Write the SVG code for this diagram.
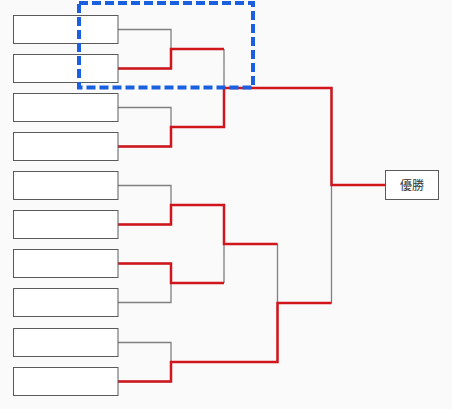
<svg xmlns="http://www.w3.org/2000/svg" width="452" height="409" viewBox="0 0 452 409">
<style>
.box{fill:#fff;stroke:#5a5a5a;stroke-width:1}
.g{fill:none;stroke:#808080;stroke-width:1.3}
.r{fill:none;stroke:#d0161c;stroke-width:2.5;stroke-linejoin:miter}
.t{font-family:"Noto Sans CJK JP","Noto Sans CJK SC",sans-serif;font-size:12px;fill:#333;text-anchor:middle}
.hl{fill:none;stroke:#1a5fe0;stroke-width:4;stroke-dasharray:9 4}
</style>
<rect width="452" height="409" fill="#fafafa"/>
<g id="connectors">
<path class="g" d="M118 29.5H171V68.5H118M171 49H224M118 107.5H171V146.5H118M171 127H224M224 49V127M224 88H331.5"/>
<path class="g" d="M118 185.5H171V224.5H118M171 205H224M118 263.5H171V302.5H118M171 283H224M224 205V283M224 244H277.5"/>
<path class="g" d="M118 342.5H171V381.5H118M171 362H277.5M277.5 244V362M277.5 303H331.5M331.5 88V303M331.5 185H385"/>
<path class="r" d="M118 68.5H171V49H224"/>
<path class="r" d="M118 146.5H171V127H224V88H331.5V185H385"/>
<path class="r" d="M118 224.5H171V205H224V244H277.5"/>
<path class="r" d="M118 263.5H171V283H224"/>
<path class="r" d="M118 381.5H171V362H277.5V303H331.5"/>
</g>
<g id="p1"><rect class="box" x="13.5" y="15.5" width="104.5" height="28"/></g>
<g id="p2"><rect class="box" x="13.5" y="54.5" width="104.5" height="28"/></g>
<g id="p3"><rect class="box" x="13.5" y="93.5" width="104.5" height="28"/></g>
<g id="p4"><rect class="box" x="13.5" y="132.5" width="104.5" height="28"/></g>
<g id="p5"><rect class="box" x="13.5" y="171.5" width="104.5" height="28"/></g>
<g id="p6"><rect class="box" x="13.5" y="210.5" width="104.5" height="28"/></g>
<g id="p7"><rect class="box" x="13.5" y="249.5" width="104.5" height="28"/></g>
<g id="p8"><rect class="box" x="13.5" y="288.5" width="104.5" height="28"/></g>
<g id="p9"><rect class="box" x="13.5" y="328.5" width="104.5" height="28"/></g>
<g id="p10"><rect class="box" x="13.5" y="367.5" width="104.5" height="28"/></g>
<g id="winner"><rect class="box" x="385.5" y="170.5" width="53" height="29"/><text class="t" x="412" y="189.5">優勝</text></g>
<g id="highlight"><rect class="hl" x="79" y="3" width="174" height="84.5"/></g>
</svg>
